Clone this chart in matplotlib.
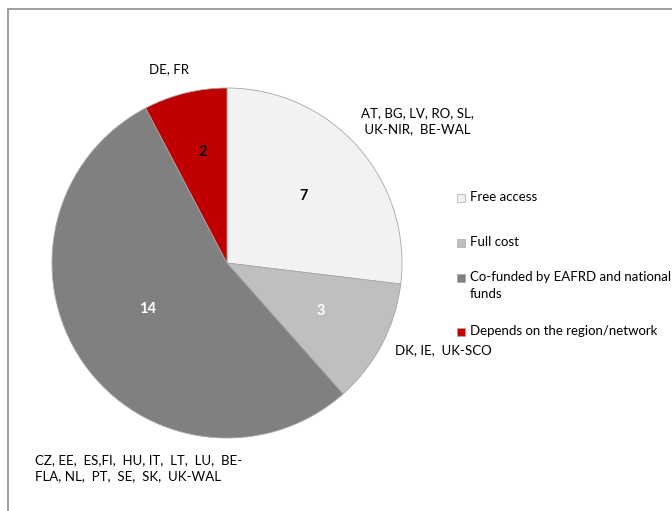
import matplotlib
matplotlib.use("Agg")
import matplotlib.pyplot as plt
from matplotlib.patches import Rectangle

# data
categories = ["Free access", "Full cost", "Co-funded by EAFRD and national\nfunds",
              "Depends on the region/network"]
values = [7, 3, 14, 2]
colors = ["#f2f2f2", "#bfbfbf", "#808080", "#c00000"]
value_colors = ["black", "white", "white", "black"]
countries = ["AT, BG, LV, RO, SL,\n UK-NIR,  BE-WAL",
             "DK, IE,  UK-SCO",
             "CZ, EE,  ES,FI,  HU, IT,  LT,  LU,  BE-\nFLA, NL,  PT,  SE,  SK,  UK-WAL",
             "DE, FR"]

W, H = 672, 511
plt.rcParams['font.family'] = ['Lato', 'DejaVu Sans']

fig = plt.figure(figsize=(W / 100, H / 100), dpi=100)

def px(x, y):
    # pixel (from top-left) -> figure fraction
    return x / W, 1 - y / H

# frame round the chart
fig.patches.append(Rectangle(px(8, 600), (W + 10) / W, (600 - 9) / H,
                             transform=fig.transFigure, fill=False,
                             edgecolor="#8c8c8c", linewidth=1.2))

cx, cy, r = 227, 263, 175
ax = fig.add_axes([(cx - r) / W, (H - cy - r) / H, 2 * r / W, 2 * r / H])
wedges, _ = ax.pie(values, colors=colors, startangle=90, counterclock=False,
                   radius=1, wedgeprops=dict(edgecolor="#a6a6a6", linewidth=0.6))
ax.set_xlim(-1, 1)
ax.set_ylim(-1, 1)
ax.set_aspect('auto')
ax.axis('off')

# value labels inside the slices
value_pos = [(304, 196), (321, 311), (148, 309), (203, 152)]
for v, c, (x, y) in zip(values, value_colors, value_pos):
    fig.text(*px(x, y), str(v), ha='center', va='center', fontsize=10.5,
             fontweight='bold', color=c)

# country labels outside
country_pos = [(361, 121), (395, 350), (35, 468), (149, 69)]
for t, (x, y) in zip(countries, country_pos):
    fig.text(*px(x, y), t, ha='left', va='center', fontsize=9.5, linespacing=1.45)

# legend
leg_y = [198, 243, 278, 332]
for lab, c, y in zip(categories, colors, leg_y):
    fig.patches.append(Rectangle(px(457, y + 4), 8 / W, 8 / H,
                                 transform=fig.transFigure, facecolor=c,
                                 edgecolor="#a6a6a6", linewidth=0.5))
    fig.text(*px(470, y - 7), lab, ha='left', va='top', fontsize=9.5, linespacing=1.45)

fig.savefig("out.png", dpi=100)
